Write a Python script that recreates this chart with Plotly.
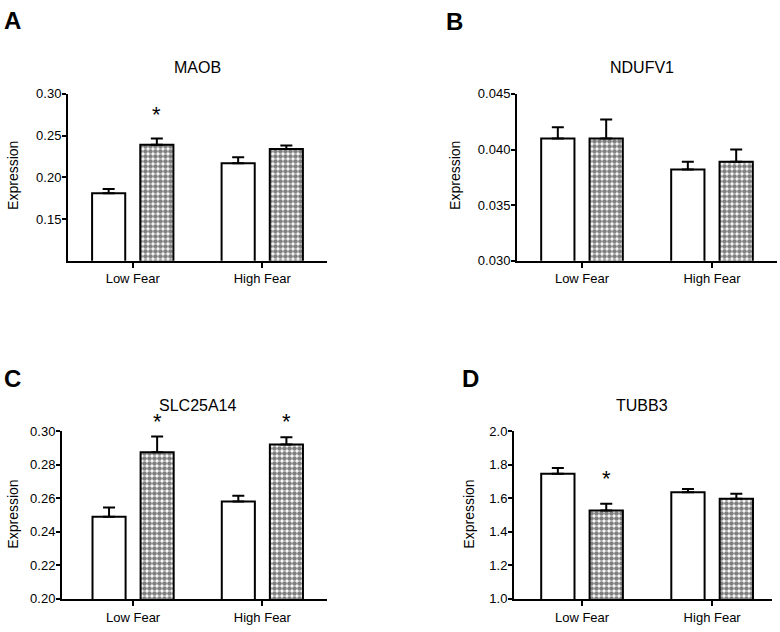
import plotly.graph_objects as go

# ---- data ----
genes = ["MAOB", "NDUFV1", "SLC25A14", "TUBB3"]
panel_letters = ["A", "B", "C", "D"]
categories = ["Low Fear", "High Fear"]

open_mean = {
    "MAOB": [0.181, 0.217],
    "NDUFV1": [0.0410, 0.0382],
    "SLC25A14": [0.249, 0.258],
    "TUBB3": [1.745, 1.635],
}
open_sem = {
    "MAOB": [0.005, 0.007],
    "NDUFV1": [0.0010, 0.0007],
    "SLC25A14": [0.0055, 0.0035],
    "TUBB3": [0.035, 0.019],
}
check_mean = {
    "MAOB": [0.239, 0.234],
    "NDUFV1": [0.0410, 0.0389],
    "SLC25A14": [0.2874, 0.292],
    "TUBB3": [1.527, 1.597],
}
check_sem = {
    "MAOB": [0.0075, 0.0043],
    "NDUFV1": [0.0017, 0.0011],
    "SLC25A14": [0.0093, 0.0043],
    "TUBB3": [0.039, 0.029],
}
y_ranges = {
    "MAOB": [0.10, 0.30],
    "NDUFV1": [0.030, 0.045],
    "SLC25A14": [0.20, 0.30],
    "TUBB3": [1.0, 2.0],
}
y_ticks = {
    "MAOB": [0.15, 0.20, 0.25, 0.30],
    "NDUFV1": [0.030, 0.035, 0.040, 0.045],
    "SLC25A14": [0.20, 0.22, 0.24, 0.26, 0.28, 0.30],
    "TUBB3": [1.0, 1.2, 1.4, 1.6, 1.8, 2.0],
}
y_fmt = {"MAOB": ".2f", "NDUFV1": ".3f", "SLC25A14": ".2f", "TUBB3": ".1f"}
# significance stars: (gene, x position in category units, y value)
stars = [
    ("MAOB", 0.186, 0.279),
    ("SLC25A14", 0.186, 0.3073),
    ("SLC25A14", 1.186, 0.3073),
    ("TUBB3", 0.186, 1.734),
]

W, H = 780, 632
# layout (pixels)
x_dom_px = {"MAOB": (68, 327), "NDUFV1": (517, 777), "SLC25A14": (62, 327), "TUBB3": (514, 772)}
x_rng = {"MAOB": [-0.5, 1.5], "NDUFV1": [-0.5, 1.5], "SLC25A14": [-0.55, 1.5], "TUBB3": [-0.523, 1.46]}
y_dom_px = {"MAOB": (89, 260), "NDUFV1": (89, 260), "SLC25A14": (434.3, 606.3), "TUBB3": (434.3, 606.3)}
title_px = {"MAOB": (197, 62), "NDUFV1": (642, 62), "SLC25A14": (197, 408), "TUBB3": (642, 408)}
letter_px = {"MAOB": (2, 14), "NDUFV1": (444, 15), "SLC25A14": (2, 381), "TUBB3": (460, 381)}
ylab_px = {"MAOB": (13, 173), "NDUFV1": (455, 173), "SLC25A14": (13, 520), "TUBB3": (469, 520)}

FONT = "Liberation Sans, Arial, sans-serif"
fig = go.Figure()
annotations = []

for i, g in enumerate(genes):
    sfx = "" if i == 0 else str(i + 1)
    xa, ya = "x" + sfx, "y" + sfx
    fig.add_trace(go.Bar(
        x=categories, y=open_mean[g], xaxis=xa, yaxis=ya,
        marker=dict(color="white", line=dict(color="black", width=2)),
        error_y=dict(type="data", array=open_sem[g], arrayminus=[0, 0], symmetric=False,
                     color="black", thickness=2, width=6),
        showlegend=False, hoverinfo="skip",
    ))
    fig.add_trace(go.Bar(
        x=categories, y=check_mean[g], xaxis=xa, yaxis=ya,
        marker=dict(color="white", line=dict(color="black", width=2),
                    pattern=dict(shape=".", size=5, solidity=0.68, fgcolor="black", bgcolor="white")),
        error_y=dict(type="data", array=check_sem[g], arrayminus=[0, 0], symmetric=False,
                     color="black", thickness=2, width=6),
        showlegend=False, hoverinfo="skip",
    ))
    x0, x1 = x_dom_px[g]
    yt, yb = y_dom_px[g]
    fig.update_layout(**{
        "xaxis" + sfx: dict(
            domain=[x0 / W, x1 / W], range=x_rng[g], anchor=ya, type="category",
            showline=True, linecolor="black", linewidth=2, showgrid=False, zeroline=False,
            ticks="outside", ticklen=5, tickwidth=2, tickcolor="black",
            tickfont=dict(family=FONT, size=13, color="black"),
        ),
        "yaxis" + sfx: dict(
            domain=[1 - yb / H, 1 - yt / H], range=y_ranges[g], anchor=xa,
            showline=True, linecolor="black", linewidth=2, showgrid=False, zeroline=False,
            ticks="outside", ticklen=4, tickwidth=2, tickcolor="black",
            tickvals=y_ticks[g], tickformat=y_fmt[g], ticklabelstandoff=-2,
            tickfont=dict(family=FONT, size=13, color="black"),
        ),
    })
    tx, ty = title_px[g]
    annotations.append(dict(text=g, x=tx / W, y=1 - ty / H, xref="paper", yref="paper",
                            showarrow=False, xanchor="center", yanchor="middle",
                            font=dict(family=FONT, size=16, color="black")))
    lx, ly = letter_px[g]
    annotations.append(dict(text="<b>" + panel_letters[i] + "</b>", x=lx / W, y=1 - ly / H,
                            xref="paper", yref="paper", showarrow=False,
                            xanchor="left", yanchor="middle",
                            font=dict(family=FONT, size=24, color="black")))
    yx, yy = ylab_px[g]
    annotations.append(dict(text="Expression", x=yx / W, y=1 - yy / H, xref="paper", yref="paper",
                            showarrow=False, textangle=-90, xanchor="center", yanchor="middle",
                            font=dict(family=FONT, size=14, color="black")))

for g, xv, yv in stars:
    i = genes.index(g)
    sfx = "" if i == 0 else str(i + 1)
    lo, hi = y_ranges[g]
    annotations.append(dict(text="*", x=xv, y=(yv - lo) / (hi - lo),
                            xref="x" + sfx, yref="y" + sfx + " domain",
                            showarrow=False, xanchor="center", yanchor="middle", yshift=-3,
                            font=dict(family=FONT, size=22, color="black")))

fig.update_layout(
    width=W, height=H, margin=dict(l=0, r=0, t=0, b=0),
    paper_bgcolor="white", plot_bgcolor="white",
    barmode="group", bargap=0.256, bargroupgap=0.312,
    annotations=annotations,
    font=dict(family=FONT, color="black"),
)

fig.write_html("out.html", config={"displayModeBar": False},
               post_script="document.body.style.margin='0';")
